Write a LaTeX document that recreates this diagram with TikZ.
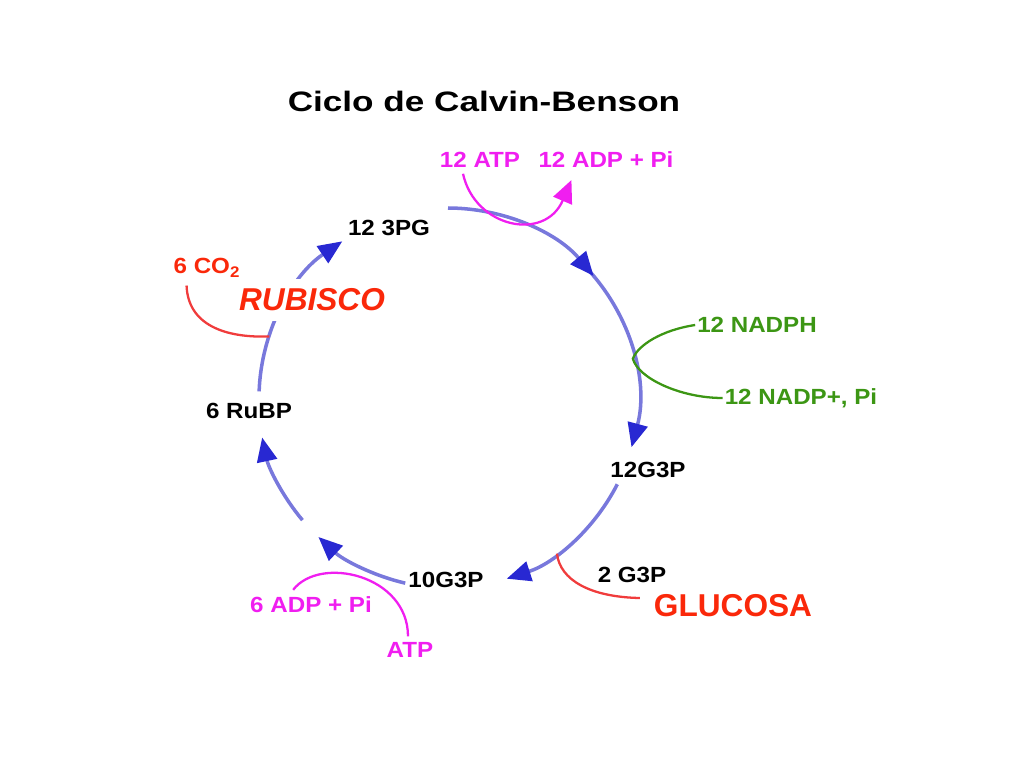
\documentclass[tikz,border=0pt]{standalone}
\usepackage{fontspec}
\usepackage{tikz}
\usetikzlibrary{arrows.meta,calc}
\setmainfont{Liberation Sans}
\newfontfamily\titlefont[FakeStretch=1.25]{Liberation Sans}
\newfontfamily\labelfont[FakeStretch=1.1]{Liberation Sans}
\definecolor{cycleblue}{RGB}{120,120,220}
\definecolor{tipblue}{RGB}{40,40,210}
\definecolor{atpmag}{RGB}{240,30,240}
\definecolor{nadgreen}{RGB}{60,150,20}
\definecolor{redtext}{RGB}{250,40,10}
\definecolor{redline}{RGB}{240,60,60}

\tikzset{
  lbl/.style={font=\labelfont\bfseries\fontsize{12.5}{15}\selectfont, inner sep=1pt},
  big/.style={font=\bfseries\fontsize{18}{21}\selectfont, text=redtext, inner sep=1pt},
  cyc/.style={draw=cycleblue, line width=2pt, -{Triangle[length=0.48cm,width=0.4cm,color=tipblue]}},
  side/.style={line width=1.3pt}
}

\begin{document}
\begin{tikzpicture}[x=0.02cm, y=-0.02cm]
    \useasboundingbox (0,0) rectangle (1024,768);

    \node[font=\titlefont\bfseries\fontsize{16}{19}\selectfont] (title) at (484,101) {Ciclo de Calvin-Benson};

    \coordinate (c) at (448,398);
    \coordinate (s1) at ($(c)+(-90:190)$);
    \coordinate (s1b) at ($(c)+(-47:190)$);
    \coordinate (s2) at ($(c)+(27:190)$);
    \coordinate (s3) at ($(c)+(103:190)$);
    \coordinate (s4) at ($(c)+(140:190)$);
    \coordinate (s5) at ($(c)+(182:189)$);
    \coordinate (jn) at ($(c)+(-12:189)$);
    \coordinate (jg) at ($(c)+(55:190)$);
    \coordinate (jr) at ($(c)+(199:189)$);

    \draw[cyc] (s1b) arc[start angle=-47, end angle=15, radius=190];
    \draw[cyc] (s1) arc[start angle=-90, end angle=-40, radius=190];
    \draw[cyc] (s2) arc[start angle=27, end angle=72, radius=190];
    \draw[cyc] (s3) arc[start angle=103, end angle=133, radius=190];
    \draw[cyc] (s4) arc[start angle=140, end angle=168, radius=190];
    \draw[cyc] (s5) arc[start angle=182, end angle=236, radius=189];

    \node[lbl, text=atpmag] (atp12) at (480,160) {12 ATP};
    \node[lbl, text=atpmag] (adp12) at (606,160) {12 ADP + Pi};
    \node[lbl] (pg) at (389,228) {12 3PG};
    \node[lbl, text=redtext] (co2) at (207,268) {6 CO\textsubscript{2}};
    \node[big, font=\bfseries\itshape\fontsize{18}{21}\selectfont, fill=white, inner ysep=0.2cm] (rubisco) at (312,300) {RUBISCO};
    \node[lbl, text=nadgreen] (nadph) at (757,325) {12 NADPH};
    \node[lbl, text=nadgreen] (nadpp) at (801,398) {12 NADP+, Pi};
    \node[lbl] (rubp) at (249,411) {6 RuBP};
    \node[lbl] (g3p12) at (648,470) {12G3P};
    \node[lbl] (g3p10) at (446,580) {10G3P};
    \node[lbl] (g3p2) at (632,575) {2 G3P};
    \node[big] (glucosa) at (733,606) {GLUCOSA};
    \node[lbl, text=atpmag] (adp6) at (311,605) {6 ADP + Pi};
    \node[lbl, text=atpmag] (atp) at (410,650) {ATP};

    \draw[side, atpmag, -{Triangle[length=0.45cm,width=0.4cm]}] ($(atp12.south)+(-17,4)$) .. controls (475,228) and (545,242) .. ($(adp12.south west)+(35,10)$);
    \draw[side, nadgreen] (nadph.west) .. controls (662,330) and (638,345) .. (jn) .. controls (638,378) and (680,398) .. (nadpp.west);
    \draw[side, redline] ($(co2.south west)+(15,6)$) .. controls (188,325) and (225,338) .. (jr);
    \draw[side, redline] (jg) .. controls (560,580) and (590,597) .. ($(glucosa.west)+(-12,-8)$);
    \draw[side, atpmag] ($(atp.north)+(-2,-4)$) .. controls (408,575) and (320,555) .. ($(adp6.north west)+(45,-5)$);
\end{tikzpicture}
\end{document}
